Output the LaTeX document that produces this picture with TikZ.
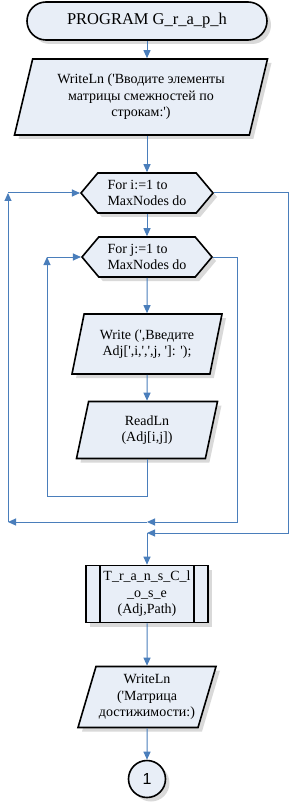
\documentclass[tikz,border=0pt]{standalone}
\usepackage{fontspec}
\setmainfont{Liberation Serif}[Ligatures=TeXOff]
\newfontfamily\connfont{Liberation Sans}
\usetikzlibrary{shapes.geometric,shapes.symbols,shadows,arrows.meta,calc}
\definecolor{boxfill}{HTML}{E8EEF7}
\definecolor{flowblue}{HTML}{4A7EBB}

\begin{document}
\begin{tikzpicture}[
  x=1pt, y=-1pt,
  block/.style={draw, line width=1.6pt, fill=boxfill, align=center, inner sep=2pt,
    font=\fontsize{14}{16.6}\selectfont,
    drop shadow={shadow xshift=4pt, shadow yshift=-4pt, fill=black!15, opacity=1}},
  term/.style={block, rectangle, rounded corners=19pt, minimum width=240pt,
    minimum height=38pt, font=\fontsize{16.5}{19}\selectfont},
  io/.style={block, trapezium, trapezium left angle=70, trapezium right angle=110,
    trapezium stretches body},
  loop/.style={block, signal, signal to=east and west, signal pointer angle=100,
    align=left, minimum width=132pt, minimum height=40pt},
  proc/.style={block, rectangle, minimum width=122pt, minimum height=57pt,
    path picture={
      \draw[line width=1.6pt]
        ([xshift=14pt]path picture bounding box.north west) -- ([xshift=14pt]path picture bounding box.south west)
        ([xshift=-14pt]path picture bounding box.north east) -- ([xshift=-14pt]path picture bounding box.south east);
    }},
  conn/.style={block, circle, minimum size=37pt, inner sep=0pt, font=\connfont\fontsize{16}{19}\selectfont},
  ptr/.style={-{Triangle[length=8pt,width=7pt]}, line width=1pt, flowblue}
]
\useasboundingbox (0,0) rectangle (292,802);

% blocks
\node[term] (start) at (147,21) {PROGRAM G\_r\_a\_p\_h};
\node[io, minimum width=253pt, minimum height=76pt] (wr1) at (141,97)
  {WriteLn ('Вводите элементы\\матрицы смежностей по\\строкам:')};
\node[loop] (fori) at (147,193) {For i:=1 to\\MaxNodes do};
\node[loop, minimum width=130pt] (forj) at (147,257) {For j:=1 to\\MaxNodes do};
\node[io, minimum width=150pt, minimum height=60pt] (wadj) at (147,344)
  {Write (',Введите\\Adj[',i,',',j, ']: ');};
\node[io, minimum width=141pt, minimum height=57pt] (rdln) at (147,430) {ReadLn\\(Adj[i,j])};
\node[proc] (tc) at (147,594) {T\_r\_a\_n\_s\_C\_l\\\_o\_s\_e\\(Adj,Path)};
\node[io, minimum width=138pt, minimum height=61pt] (wr2) at (147,697)
  {WriteLn\\('Матрица\\достижимости:)};
\node[conn] (con) at (147,779) {1};

% loop corners
\coordinate (jr) at (237,522);
\coordinate (jm) at (147,522);
\coordinate (il) at (8,522);
\coordinate (jb) at (47,496);
\coordinate (ir) at (288,533);
\coordinate (im) at (147,533);

% main line
\draw[ptr] (start) -- (start |- wr1.north);
\draw[ptr] (start |- wr1.south) -- (fori.north);
\draw[ptr] (fori.south) -- (forj.north);
\draw[ptr] (forj.south) -- (wadj.north);
\draw[ptr] (wadj.south) -- (rdln.north);
\draw[ptr] (tc.south) -- (wr2.north);
\draw[ptr] (wr2.south) -- (con.north);

% inner loop
\draw[ptr] (rdln.south) |- (jb) -- (jb |- forj.west);
\draw[ptr] (jb |- forj.west) -- (forj.west);
\draw[ptr] (forj.east) -| (jr) -- (jm);

% outer loop
\draw[ptr] (jm) -- (il);
\draw[ptr] (il) -- (il |- fori.west);
\draw[ptr] (il |- fori.west) -- (fori.west);
\draw[ptr] (fori.east) -| (ir) -- (im);
\draw[ptr] (im) -- (tc.north);
\end{tikzpicture}
\end{document}
